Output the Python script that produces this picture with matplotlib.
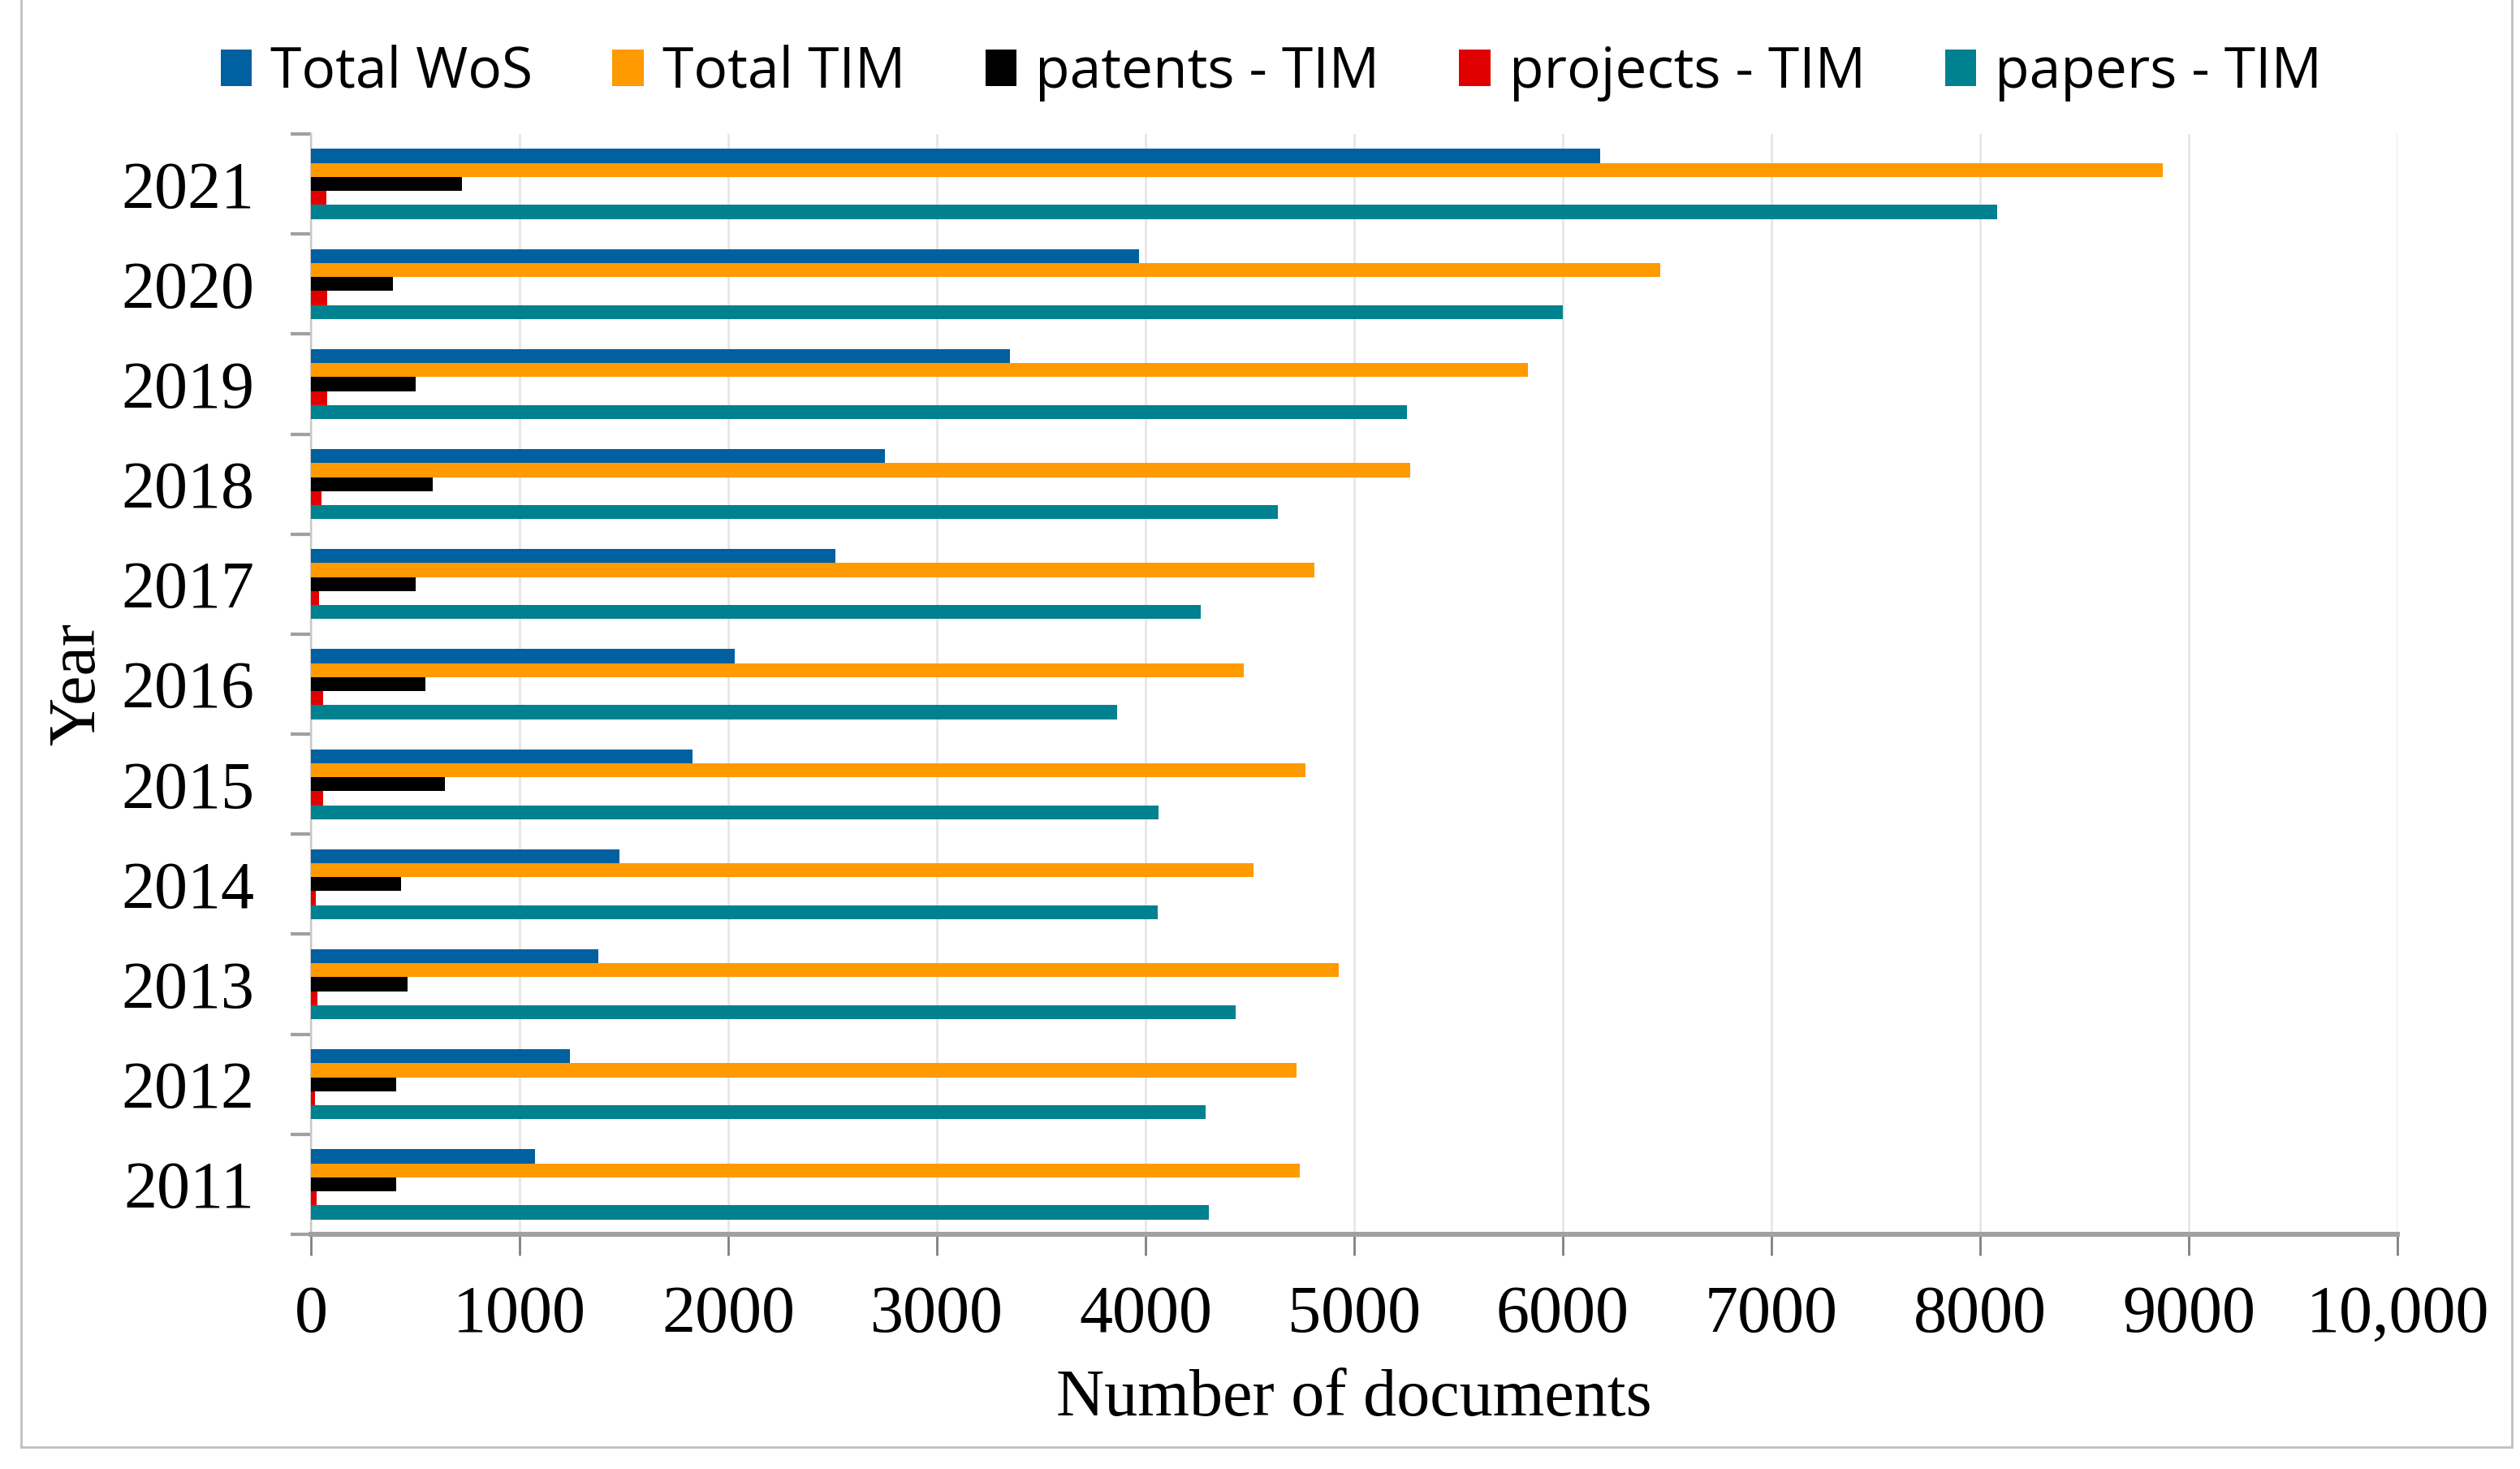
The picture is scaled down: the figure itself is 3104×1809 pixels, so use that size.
import matplotlib
matplotlib.use("Agg")
import matplotlib.pyplot as plt
from matplotlib.lines import Line2D
from matplotlib.patches import Patch
import numpy as np

years = ["2011", "2012", "2013", "2014", "2015", "2016", "2017", "2018", "2019", "2020", "2021"]
total_wos = [1074, 1240, 1376, 1477, 1828, 2032, 2512, 2752, 3349, 3968, 6180]
total_tim = [4739, 4725, 4926, 4516, 4767, 4471, 4808, 5268, 5832, 6468, 8876]
patents_tim = [407, 410, 462, 431, 643, 549, 500, 584, 500, 393, 722]
projects_tim = [28, 21, 31, 25, 60, 59, 38, 49, 77, 77, 73]
papers_tim = [4305, 4287, 4430, 4058, 4061, 3863, 4266, 4633, 5253, 6000, 8080]

series_names = ["Total WoS", "Total TIM", "patents - TIM", "projects - TIM", "papers - TIM"]
series_colors = ["#0060A0", "#FF9A00", "#000000", "#E00000", "#00818F"]
xtick_values = [0, 1000, 2000, 3000, 4000, 5000, 6000, 7000, 8000, 9000, 10000]
xtick_labels = ["0", "1000", "2000", "3000", "4000", "5000", "6000", "7000", "8000", "9000", "10,000"]

W, H, DPI = 3104, 1809, 200
fig = plt.figure(figsize=(W / DPI, H / DPI), dpi=DPI)
left, right = 383 / W, 2953 / W
top, bottom = 1 - 165 / H, 1 - 1520 / H
ax = fig.add_axes([left, bottom, right - left, top - bottom])

serif = ["Liberation Serif", "DejaVu Serif"]
h = 0.14
pos = np.arange(len(years))
all_series = [total_wos, total_tim, patents_tim, projects_tim, papers_tim]
offsets = [2 * h, h, 0, -h, -2 * h]
for vals, off, col, name in zip(all_series, offsets, series_colors, series_names):
    ax.barh(pos + off, vals, height=h, color=col, label=name, zorder=3)

ax.set_xlim(0, 10000)
ax.set_ylim(-0.5, len(years) - 0.5)
ax.set_xticks(xtick_values)
ax.set_xticklabels(xtick_labels, fontfamily=serif, fontsize=29.5)
ax.set_yticks(pos)
ax.set_yticklabels(years, fontfamily=serif, fontsize=29.5)
ax.set_yticks(np.arange(-0.5, len(years), 1.0), minor=True)
ax.tick_params(axis="y", which="major", length=0, pad=25)
ax.tick_params(axis="y", which="minor", length=9, width=1.5, color="#A0A0A0", direction="out")
ax.tick_params(axis="x", which="major", length=9.4, width=1.0, color="#808080", pad=13, direction="out")

ax.grid(axis="x", color="#E6E6E6", linewidth=1.0, zorder=0)
ax.set_axisbelow(True)
for s in ["top", "right"]:
    ax.spines[s].set_visible(False)
ax.spines["bottom"].set_color("#A0A0A0")
ax.spines["bottom"].set_linewidth(2.2)
ax.spines["left"].set_color("#C8C8C8")
ax.spines["left"].set_linewidth(0.8)

ax.set_xlabel("Number of documents", fontfamily=serif, fontsize=29.5)
ax.xaxis.label.set_va("baseline")
ax.xaxis.set_label_coords(0.5, -(1743 - 1520) / (1520 - 165))
ax.set_ylabel("Year", fontfamily=serif, fontsize=29.5)
ax.yaxis.label.set_va("center")
ax.yaxis.set_label_coords((96 - 383) / (2953 - 383), 0.5)

handles = [Patch(facecolor=c, edgecolor="none") for c in series_colors]
fig.legend(handles, series_names, loc="center", bbox_to_anchor=(1566 / W, 1 - 90 / H),
           ncol=5, frameon=False, prop={"family": ["Open Sans", "DejaVu Sans"], "size": 25},
           handlelength=0.55, handleheight=0.6, handletextpad=0.33, columnspacing=1.42)

# outer border (left, right, bottom)
bx0, bx1 = 26 / W, 3094 / W
by0 = 1 - 1782 / H
by1 = 1 - 33 / H
for xs, ys in [([bx0, bx0], [by0, by1 + 0.05]), ([bx1, bx1], [by0, by1 + 0.05]), ([bx0, bx1], [by0, by0])]:
    fig.add_artist(Line2D(xs, ys, color="#C0C0C0", linewidth=1.0, transform=fig.transFigure))

fig.savefig("out.png", dpi=DPI, facecolor="white")
